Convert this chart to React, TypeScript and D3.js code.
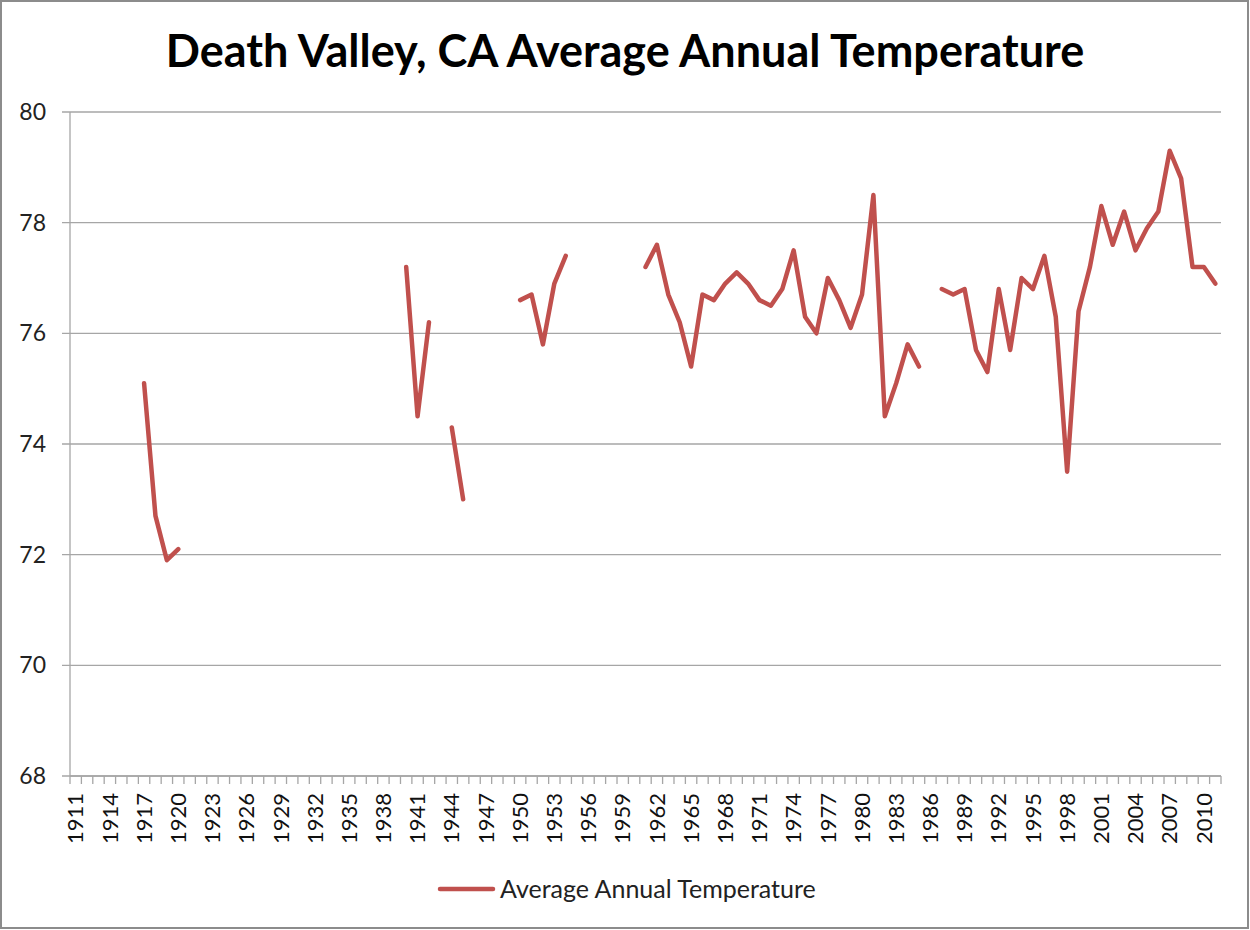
import * as d3 from 'd3';
import React from 'react';

// years shown on the category axis
const years = d3.range(1911, 2012);

// years that have a reading, and the reading for each one
const reportedYears = [
  1917, 1918, 1919, 1920,
  1940, 1941, 1942, 1944, 1945,
  1950, 1951, 1952, 1953, 1954,
  1961, 1962, 1963, 1964, 1965, 1966, 1967, 1968, 1969, 1970,
  1971, 1972, 1973, 1974, 1975, 1976, 1977, 1978, 1979, 1980,
  1981, 1982, 1983, 1984, 1985,
  1987, 1988, 1989, 1990, 1991, 1992, 1993, 1994, 1995, 1996,
  1997, 1998, 1999, 2000, 2001, 2002, 2003, 2004, 2005, 2006,
  2007, 2008, 2009, 2010, 2011,
];
const temps = [
  75.1, 72.7, 71.9, 72.1,
  77.2, 74.5, 76.2, 74.3, 73.0,
  76.6, 76.7, 75.8, 76.9, 77.4,
  77.2, 77.6, 76.7, 76.2, 75.4, 76.7, 76.6, 76.9, 77.1, 76.9,
  76.6, 76.5, 76.8, 77.5, 76.3, 76.0, 77.0, 76.6, 76.1, 76.7,
  78.5, 74.5, 75.1, 75.8, 75.4,
  76.8, 76.7, 76.8, 75.7, 75.3, 76.8, 75.7, 77.0, 76.8, 77.4,
  76.3, 73.5, 76.4, 77.2, 78.3, 77.6, 78.2, 77.5, 77.9, 78.2,
  79.3, 78.8, 77.2, 77.2, 76.9,
];
const yTicks = [68, 70, 72, 74, 76, 78, 80];

const title = 'Death Valley, CA Average Annual Temperature';
const seriesName = 'Average Annual Temperature';

const W = 1250;
const H = 930;
const margin = { top: 112, right: 29, bottom: 154, left: 70 };
const lineColor = '#C0504D';
const font = 'Lato, "Open Sans", sans-serif';

export default function App() {
  const byYear = new Map(reportedYears.map((yr, i) => [yr, temps[i]]));
  const series = years.map((yr) => ({ year: yr, temp: byYear.get(yr) }));

  const x = d3
    .scaleBand<number>()
    .domain(years)
    .range([margin.left, W - margin.right])
    .padding(0);
  const y = d3
    .scaleLinear()
    .domain([68, 80])
    .range([H - margin.bottom, margin.top]);

  const line = d3
    .line<{ year: number; temp: number | undefined }>()
    .defined((d) => d.temp !== undefined)
    .x((d) => (x(d.year) as number) + x.bandwidth() / 2)
    .y((d) => y(d.temp as number));

  const bottom = y(68);
  const left = margin.left;
  const right = W - margin.right;

  return (
    <svg
      width={W}
      height={H}
      style={{ position: 'absolute', left: 0, top: 0, background: '#fff' }}
    >
      <rect x={1} y={1} width={W - 3} height={H - 3} fill="#fff" stroke="#8c8c8c" strokeWidth={2} />

      <text
        x={625}
        y={67}
        textAnchor="middle"
        fontFamily={font}
        fontWeight="bold"
        fontSize={45}
        fill="#000"
      >
        {title}
      </text>

      {/* gridlines + y ticks */}
      {yTicks.map((t) => (
        <g key={t}>
          <line x1={left - 8} x2={right} y1={y(t)} y2={y(t)} stroke="#a6a6a6" strokeWidth={1.3} />
          <text
            x={46}
            y={y(t)}
            dy="0.35em"
            textAnchor="end"
            fontFamily={font}
            fontSize={23}
            fill="#222"
          >
            {t}
          </text>
        </g>
      ))}

      {/* axis lines */}
      <line x1={left} x2={left} y1={margin.top} y2={bottom} stroke="#a6a6a6" strokeWidth={1.3} />
      <line x1={left} x2={right} y1={bottom} y2={bottom} stroke="#a6a6a6" strokeWidth={1.3} />

      {/* category tick marks */}
      {years.concat([2012]).map((yr) => {
        const px = yr === 2012 ? right : (x(yr) as number);
        return (
          <line key={'t' + yr} x1={px} x2={px} y1={bottom} y2={bottom + 8} stroke="#a6a6a6" strokeWidth={1.3} />
        );
      })}

      {/* category labels, every third year */}
      {years
        .filter((yr, i) => i % 3 === 0)
        .map((yr) => {
          const cx = (x(yr) as number) + x.bandwidth() / 2;
          const ty = bottom + 17;
          return (
            <text
              key={'l' + yr}
              transform={`translate(${cx},${ty}) rotate(-90)`}
              textAnchor="end"
              dy="0.35em"
              fontFamily={font}
              fontSize={22}
              fill="#111"
            >
              {yr}
            </text>
          );
        })}

      <path
        d={line(series) || ''}
        fill="none"
        stroke={lineColor}
        strokeWidth={4.5}
        strokeLinejoin="round"
        strokeLinecap="round"
      />

      {/* legend */}
      <line x1={440} x2={493} y1={889} y2={889} stroke={lineColor} strokeWidth={4.5} strokeLinecap="round" />
      <text x={500} y={889} dy="0.35em" fontFamily={font} fontSize={25} fill="#222">
        {seriesName}
      </text>
    </svg>
  );
}
